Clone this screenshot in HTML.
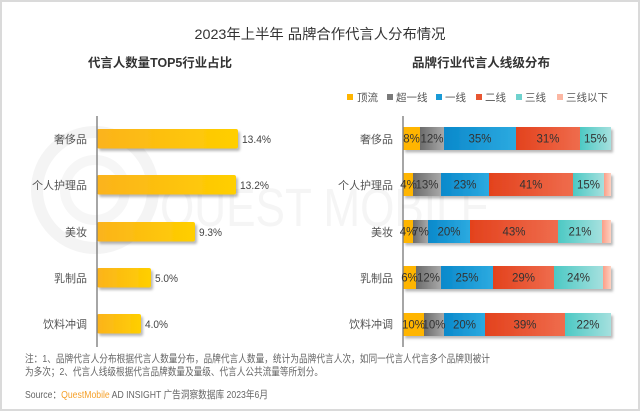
<!DOCTYPE html>
<html><head><meta charset="utf-8"><style>
html,body{margin:0;padding:0;background:#fff;}
svg{display:block;}
text{font-family:"Liberation Sans","Noto Sans CJK SC",sans-serif;}
</style></head><body>
<svg width="640" height="411" viewBox="0 0 640 411" xmlns="http://www.w3.org/2000/svg">
<defs>
<linearGradient id="gy" x1="0" x2="1" y1="0" y2="0"><stop offset="0" stop-color="#fbb31c"/><stop offset="1" stop-color="#ffcf00"/></linearGradient>
<linearGradient id="gg" x1="0" x2="1"><stop offset="0" stop-color="#6b6b6b"/><stop offset="1" stop-color="#a8a8a8"/></linearGradient>
<linearGradient id="gb" x1="0" x2="1"><stop offset="0" stop-color="#0a89cb"/><stop offset="1" stop-color="#2caae0"/></linearGradient>
<linearGradient id="gr" x1="0" x2="1"><stop offset="0" stop-color="#e3421d"/><stop offset="1" stop-color="#ef6c4d"/></linearGradient>
<linearGradient id="gt" x1="0" x2="1"><stop offset="0" stop-color="#4cc9c4"/><stop offset="1" stop-color="#a5e0de"/></linearGradient>
<linearGradient id="gp" x1="0" x2="1"><stop offset="0" stop-color="#fb9f88"/><stop offset="1" stop-color="#fdd0c0"/></linearGradient>
<filter id="sh" x="-5%" y="-20%" width="110%" height="160%"><feDropShadow dx="2" dy="2.5" stdDeviation="1.2" flood-color="#000" flood-opacity="0.28"/></filter>
</defs>
<rect x="1" y="1" width="638" height="409" fill="#fff" stroke="#dadada" stroke-width="2"/>
<!-- watermark -->
<circle cx="95" cy="190" r="58" fill="none" stroke="#f4f4f4" stroke-width="12"/>
<circle cx="95" cy="190" r="30" fill="none" stroke="#f6f6f6" stroke-width="10"/>
<text x="160" y="226" font-size="54" fill="#f5f5f5" textLength="330" lengthAdjust="spacingAndGlyphs">QUEST MOBILE</text>

<text x="320" y="39" font-size="14" fill="#333" text-anchor="middle" textLength="251" lengthAdjust="spacingAndGlyphs">2023年上半年 品牌合作代言人分布情况</text>
<text x="160" y="67" font-size="12.5" font-weight="bold" fill="#333" text-anchor="middle" textLength="144" lengthAdjust="spacingAndGlyphs">代言人数量TOP5行业占比</text>
<text x="481" y="67" font-size="12.5" font-weight="bold" fill="#333" text-anchor="middle" textLength="138" lengthAdjust="spacingAndGlyphs">品牌行业代言人线级分布</text>

<!-- legend -->
<g font-size="10.5" fill="#555">
<rect x="347" y="94" width="6" height="6" fill="#ffb500"/><text x="357" y="101">顶流</text>
<rect x="387" y="94" width="6" height="6" fill="#7a7a7a"/><text x="396" y="101">超一线</text>
<rect x="436" y="94" width="6" height="6" fill="#1a9ad6"/><text x="445" y="101">一线</text>
<rect x="476" y="94" width="6" height="6" fill="#e85632"/><text x="485" y="101">二线</text>
<rect x="516" y="94" width="6" height="6" fill="#6fd2ce"/><text x="525" y="101">三线</text>
<rect x="557" y="94" width="6" height="6" fill="#fcb7a3"/><text x="566" y="101">三线以下</text>
</g>

<!-- left bars -->
<g filter="url(#sh)">
<rect x="97" y="129" width="141" height="19.5" rx="2" fill="url(#gy)"/>
<rect x="97" y="175" width="139" height="19.5" rx="2" fill="url(#gy)"/>
<rect x="97" y="222" width="98" height="19.5" rx="2" fill="url(#gy)"/>
<rect x="97" y="268" width="54" height="19.5" rx="2" fill="url(#gy)"/>
<rect x="97" y="314" width="44" height="19.5" rx="2" fill="url(#gy)"/>
</g>
<line x1="97" y1="116" x2="97" y2="347" stroke="#808080" stroke-width="1.4"/>
<g font-size="11" fill="#444">
<text x="242" y="143" textLength="29" lengthAdjust="spacingAndGlyphs">13.4%</text>
<text x="240" y="189" textLength="29" lengthAdjust="spacingAndGlyphs">13.2%</text>
<text x="199" y="236" textLength="23" lengthAdjust="spacingAndGlyphs">9.3%</text>
<text x="155" y="282" textLength="23" lengthAdjust="spacingAndGlyphs">5.0%</text>
<text x="145" y="328" textLength="23" lengthAdjust="spacingAndGlyphs">4.0%</text>
</g>
<g font-size="11" fill="#555" text-anchor="end">
<text x="87" y="143">奢侈品</text>
<text x="87" y="189">个人护理品</text>
<text x="87" y="236">美妆</text>
<text x="87" y="282">乳制品</text>
<text x="87" y="328">饮料冲调</text>
</g>

<!-- right bars -->
<g filter="url(#sh)">
<rect x="403" y="127" width="17" height="23" fill="#ffb500"/><rect x="420" y="127" width="24" height="23" fill="url(#gg)"/><rect x="444" y="127" width="72" height="23" fill="url(#gb)"/><rect x="516" y="127" width="64" height="23" fill="url(#gr)"/><rect x="580" y="127" width="31" height="23" fill="url(#gt)"/>
</g>
<g filter="url(#sh)">
<rect x="403" y="173" width="10" height="23" fill="#ffb500"/><rect x="413" y="173" width="28" height="23" fill="url(#gg)"/><rect x="441" y="173" width="48" height="23" fill="url(#gb)"/><rect x="489" y="173" width="84" height="23" fill="url(#gr)"/><rect x="573" y="173" width="31" height="23" fill="url(#gt)"/><rect x="604" y="173" width="7" height="23" fill="url(#gp)"/>
</g>
<g filter="url(#sh)">
<rect x="403" y="220" width="10" height="23" fill="#ffb500"/><rect x="413" y="220" width="15" height="23" fill="url(#gg)"/><rect x="428" y="220" width="42" height="23" fill="url(#gb)"/><rect x="470" y="220" width="88" height="23" fill="url(#gr)"/><rect x="558" y="220" width="44" height="23" fill="url(#gt)"/><rect x="602" y="220" width="9" height="23" fill="url(#gp)"/>
</g>
<g filter="url(#sh)">
<rect x="403" y="266" width="13" height="23" fill="#ffb500"/><rect x="416" y="266" width="25" height="23" fill="url(#gg)"/><rect x="441" y="266" width="52" height="23" fill="url(#gb)"/><rect x="493" y="266" width="61" height="23" fill="url(#gr)"/><rect x="554" y="266" width="49" height="23" fill="url(#gt)"/><rect x="603" y="266" width="8" height="23" fill="url(#gp)"/>
</g>
<g filter="url(#sh)">
<rect x="403" y="313" width="21" height="23" fill="#ffb500"/><rect x="424" y="313" width="20" height="23" fill="url(#gg)"/><rect x="444" y="313" width="41" height="23" fill="url(#gb)"/><rect x="485" y="313" width="80" height="23" fill="url(#gr)"/><rect x="565" y="313" width="46" height="23" fill="url(#gt)"/>
</g>
<line x1="403" y1="116" x2="403" y2="347" stroke="#808080" stroke-width="1.4"/>
<g font-size="11.5" fill="#333" text-anchor="middle">
<text x="411.5" y="142.5">8%</text><text x="432" y="142.5">12%</text><text x="480" y="142.5">35%</text><text x="548" y="142.5">31%</text><text x="595.5" y="142.5">15%</text>
<text x="408.5" y="188.5">4%</text><text x="427" y="188.5">13%</text><text x="465" y="188.5">23%</text><text x="531" y="188.5">41%</text><text x="588.5" y="188.5">15%</text>
<text x="408" y="235.5">4%</text><text x="420.5" y="235.5">7%</text><text x="449" y="235.5">20%</text><text x="514" y="235.5">43%</text><text x="580" y="235.5">21%</text>
<text x="409.5" y="281.5">6%</text><text x="428.5" y="281.5">12%</text><text x="467" y="281.5">25%</text><text x="523.5" y="281.5">29%</text><text x="578.5" y="281.5">24%</text>
<text x="413.5" y="328.5">10%</text><text x="434" y="328.5">10%</text><text x="464.5" y="328.5">20%</text><text x="525" y="328.5">39%</text><text x="588" y="328.5">22%</text>
</g>
<g font-size="11" fill="#555" text-anchor="end">
<text x="393" y="143">奢侈品</text>
<text x="393" y="189">个人护理品</text>
<text x="393" y="236">美妆</text>
<text x="393" y="282">乳制品</text>
<text x="393" y="328">饮料冲调</text>
</g>

<!-- footer -->
<g font-size="10.5" fill="#666">
<text x="25" y="362" textLength="465" lengthAdjust="spacingAndGlyphs">注：1、品牌代言人分布根据代言人数量分布，品牌代言人数量，统计为品牌代言人次，如同一代言人代言多个品牌则被计</text>
<text x="25" y="375" textLength="298" lengthAdjust="spacingAndGlyphs">为多次；2、代言人线级根据代言品牌数量及量级、代言人公共流量等所划分。</text>
<text x="25" y="398" textLength="243" lengthAdjust="spacingAndGlyphs">Source：<tspan fill="#f5a02a">QuestMobile</tspan> AD INSIGHT 广告洞察数据库 2023年6月</text>
</g>
</svg>
</body></html>
